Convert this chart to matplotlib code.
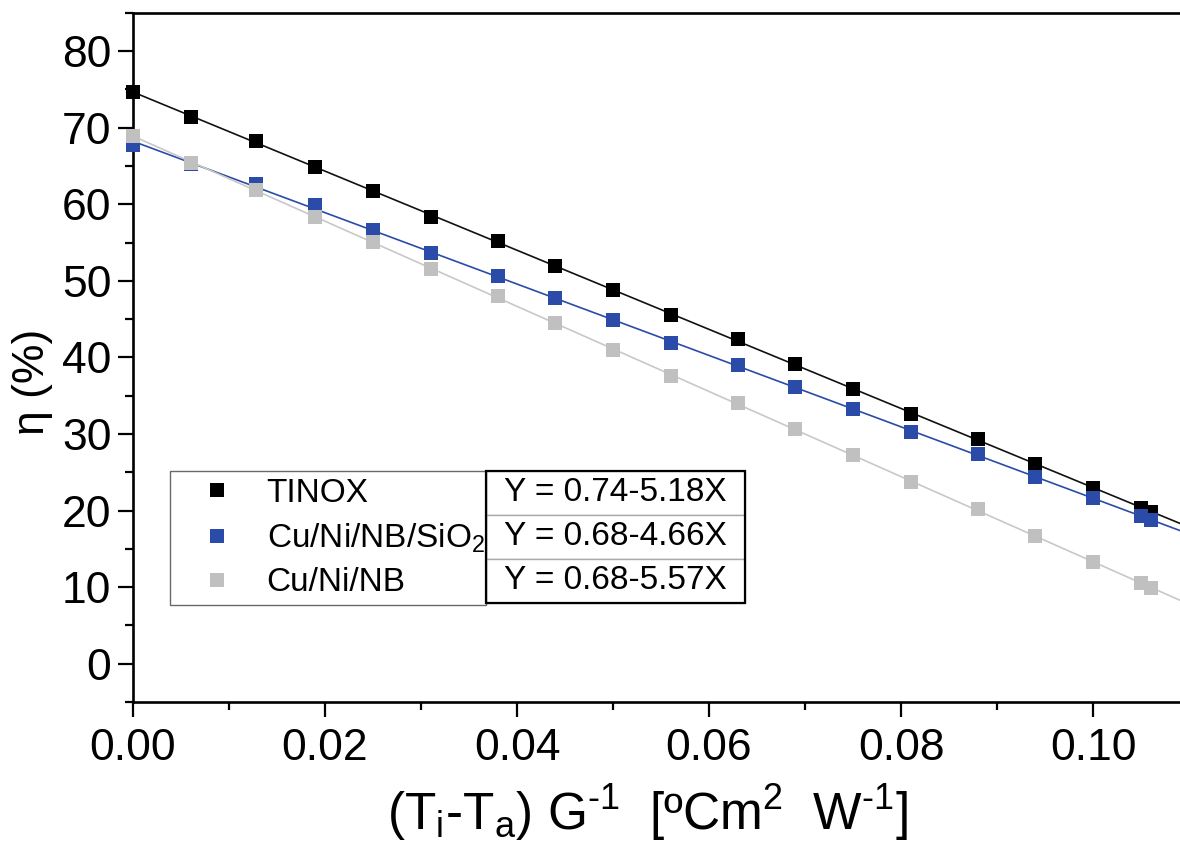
import numpy as np
import matplotlib
matplotlib.use("Agg")
import matplotlib.pyplot as plt
from matplotlib.ticker import MultipleLocator
from matplotlib.lines import Line2D
from matplotlib.patches import Rectangle

plt.rcParams["font.family"] = ["Liberation Sans", "DejaVu Sans"]
plt.rcParams["mathtext.fontset"] = "custom"
plt.rcParams["mathtext.rm"] = "Liberation Sans"
plt.rcParams["mathtext.it"] = "Liberation Sans:italic"

# ── data ──────────────────────────────────────────────────────────────────
x = [0.0, 0.006, 0.0128, 0.019, 0.025, 0.031, 0.038, 0.044, 0.050, 0.056,
     0.063, 0.069, 0.075, 0.081, 0.088, 0.094, 0.100, 0.105, 0.106]

tinox = [74.6, 71.4, 68.2, 64.9, 61.7, 58.4, 55.2, 52.0, 48.8, 45.6,
         42.4, 39.1, 35.9, 32.6, 29.4, 26.1, 23.0, 20.3, 19.8]
sio2  = [67.7, 65.2, 62.6, 59.9, 56.7, 53.6, 50.6, 47.8, 44.9, 41.9,
         39.0, 36.1, 33.2, 30.2, 27.4, 24.4, 21.6, 19.3, 18.7]
nb    = [68.9, 65.4, 61.9, 58.4, 55.1, 51.5, 48.0, 44.5, 40.9, 37.6,
         34.0, 30.6, 27.2, 23.7, 20.2, 16.7, 13.3, 10.5, 9.9]

labels    = ["TINOX", r"Cu/Ni/NB/SiO$_2$", "Cu/Ni/NB"]
equations = ["Y = 0.74-5.18X", "Y = 0.68-4.66X", "Y = 0.68-5.57X"]
series    = [tinox, sio2, nb]
mcolors   = ["#000000", "#2a4ca8", "#c0c0c0"]
lcolors   = ["#111111", "#2a4ca8", "#c8c8c8"]

fig = plt.figure(figsize=(11.8, 8.55), dpi=100)
ax = fig.add_axes([0.1127, 0.179, 0.895, 0.806])
ax.set_xlim(0, 0.11)
ax.set_ylim(-5, 85)

xs = np.array(ax.get_xlim())
for y, mc, lc in zip(series, mcolors, lcolors):
    k, b = np.polyfit(x, y, 1)
    ax.plot(xs, k * xs + b, color=lc, lw=1.2, zorder=2)
    ax.plot(x, y, ls="none", marker="s", ms=10.5, mfc=mc, mec=mc, mew=0,
            zorder=3, clip_on=False)

# ── axes styling ──────────────────────────────────────────────────────────
ax.xaxis.set_major_locator(MultipleLocator(0.02))
ax.xaxis.set_minor_locator(MultipleLocator(0.01))
ax.yaxis.set_major_locator(MultipleLocator(10))
ax.yaxis.set_minor_locator(MultipleLocator(5))
ax.xaxis.set_major_formatter(lambda v, p: f"{v:.2f}")
ax.tick_params(which="major", direction="out", length=10.5, width=1.6,
               labelsize=32, pad=8)
ax.tick_params(which="minor", direction="out", length=5.5, width=1.6)
ax.tick_params(axis="y", pad=5)
for s in ax.spines.values():
    s.set_linewidth(1.9)
ax.spines["right"].set_visible(False)

ax.set_ylabel(r"η (%)", fontsize=32)
ax.yaxis.set_label_coords(-0.076, 0.464)
ax.set_xlabel(r"(T$_\mathrm{i}$-T$_\mathrm{a}$) G$^\text{-1}$  [ºCm$^\mathrm{2}$  W$^\text{-1}$]",
              fontsize=37, labelpad=10, x=0.487, ha="center")

# ── legend + equation table ───────────────────────────────────────────────
handles = [Line2D([], [], ls="none", marker="s", ms=10.5, mfc=c, mec=c, mew=0)
           for c in mcolors]
leg = ax.legend(handles, labels, loc="upper left",
                bbox_to_anchor=(0.035, 0.1437, 0.299, 0.1916), mode="expand",
                fontsize=24, frameon=True, fancybox=False, borderaxespad=0,
                borderpad=0.2, handlelength=2.4, handletextpad=0.3,
                labelspacing=0.38)
leg.get_frame().set_edgecolor("#444444")
leg.get_frame().set_linewidth(1.0)

tbl = ax.table(cellText=[[e] for e in equations], cellLoc="center",
               bbox=[0.3343, 0.1437, 0.2453, 0.1916])
tbl.auto_set_font_size(False)
tbl.set_fontsize(24)
for cell in tbl.get_celld().values():
    cell.set_edgecolor("#aaaaaa")
    cell.set_linewidth(1.0)
    cell.set_facecolor("white")
ax.add_patch(Rectangle((0.3343, 0.1437), 0.2453, 0.1916, transform=ax.transAxes,
                       fill=False, edgecolor="black", lw=1.6, zorder=10))

fig.savefig("out.png", dpi=100)
